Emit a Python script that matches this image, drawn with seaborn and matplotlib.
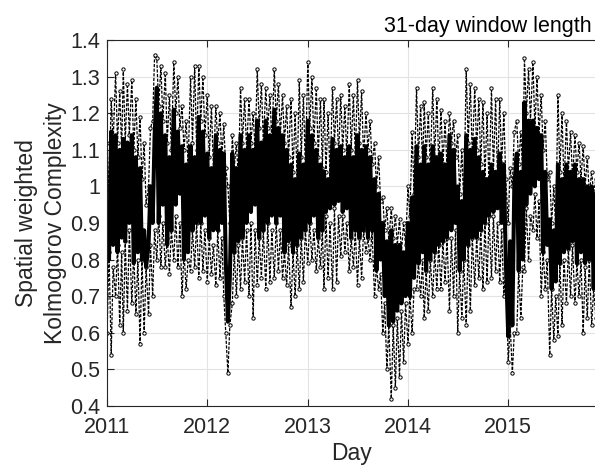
import numpy as np
import pandas as pd
import matplotlib
matplotlib.use("Agg")
import matplotlib.pyplot as plt
from matplotlib.ticker import FuncFormatter, MultipleLocator
import seaborn as sns

# Four samples per month (days 1, 8, 16, 23), January 2011 to November 2015
months = pd.date_range("2011-01-01", "2015-11-01", freq="MS")
sample_offsets = [0, 7, 15, 22]

# Central complexity (thick line)
mid = [
    # 2011
    0.90, 0.80, 1.15, 0.84,  1.14, 0.82, 1.10, 0.86,  1.13, 0.85, 1.12, 0.90,
    1.14, 0.79, 1.08, 0.82,  1.05, 0.80, 0.88, 0.78,  0.84, 1.00, 0.90, 1.14,
    1.27, 0.90, 1.20, 0.95,  1.14, 0.84, 1.08, 0.88,  1.21, 0.95, 1.15, 0.98,
    1.11, 0.80, 1.06, 0.82,  1.11, 0.88, 1.08, 0.90,  1.19, 0.90, 1.15, 0.92,
    # 2012
    1.09, 0.86, 1.05, 0.88,  1.14, 0.88, 1.10, 0.90,  1.09, 0.80, 0.63, 0.75,
    1.09, 0.82, 1.05, 0.85,  1.14, 0.86, 1.10, 0.90,  1.14, 0.93, 1.10, 0.95,
    1.18, 0.86, 1.12, 0.88,  1.18, 0.90, 1.14, 0.92,  1.21, 0.90, 1.16, 0.92,
    1.14, 0.82, 1.10, 0.85,  1.06, 0.82, 1.02, 0.84,  1.09, 0.86, 1.06, 0.88,
    # 2013
    1.18, 0.90, 1.14, 0.92,  1.10, 0.86, 1.06, 0.88,  1.04, 0.93, 1.02, 0.94,
    1.13, 0.95, 1.10, 0.96,  1.11, 0.93, 1.08, 0.94,  1.11, 0.86, 1.08, 0.88,
    1.14, 0.86, 1.10, 0.88,  1.11, 0.86, 1.08, 0.88,  1.02, 0.77, 0.98, 0.80,
    0.90, 0.70, 0.85, 0.62,  0.88, 0.63, 0.84, 0.66,  0.84, 0.68, 0.82, 0.70,
    # 2014
    0.90, 0.70, 0.97, 0.75,  1.11, 0.79, 1.06, 0.82,  1.11, 0.77, 1.06, 0.80,
    1.11, 0.82, 1.08, 0.84,  1.09, 0.85, 1.06, 0.86,  1.14, 0.88, 1.10, 0.90,
    1.00, 0.77, 0.96, 0.80,  1.14, 0.84, 1.10, 0.86,  1.13, 0.86, 1.08, 0.88,
    1.04, 0.90, 1.02, 0.92,  1.06, 0.93, 1.04, 0.94,  1.09, 0.90, 1.06, 0.80,
    # 2015
    0.59, 0.85, 0.62, 1.00,  1.09, 0.77, 1.04, 0.80,  1.23, 0.95, 1.18, 0.98,
    1.18, 1.00, 1.16, 1.02,  1.14, 0.82, 1.04, 0.84,  0.91, 0.72, 0.88, 0.74,
    1.06, 0.79, 1.02, 0.82,  1.06, 0.83, 1.04, 0.85,  1.06, 0.79, 1.02, 0.82,
    1.02, 0.79, 1.00, 0.80,  1.00, 0.72, 0.98, 0.75,
]

# Upper spread (dashed, open markers)
upper = [
    # 2011
    1.12, 0.98, 1.24, 1.12,  1.31, 1.12, 1.26, 1.10,  1.32, 1.12, 1.28, 1.14,
    1.29, 1.10, 1.24, 1.08,  1.19, 1.02, 1.12, 0.95,  1.00, 1.16, 1.18, 1.36,
    1.35, 1.22, 1.33, 1.18,  1.31, 1.12, 1.25, 1.10,  1.34, 1.20, 1.30, 1.16,
    1.22, 1.10, 1.18, 1.06,  1.30, 1.12, 1.33, 1.10,  1.33, 1.18, 1.30, 1.14,
    # 2012
    1.25, 1.08, 1.22, 1.05,  1.22, 1.12, 1.20, 1.08,  1.17, 1.05, 1.00, 0.90,
    1.14, 1.05, 1.12, 1.02,  1.27, 1.12, 1.24, 1.10,  1.24, 1.12, 1.20, 1.10,
    1.32, 1.16, 1.28, 1.12,  1.27, 1.16, 1.25, 1.12,  1.32, 1.18, 1.28, 1.14,
    1.25, 1.12, 1.22, 1.08,  1.24, 1.04, 1.20, 1.02,  1.29, 1.08, 1.25, 1.05,
    # 2013
    1.34, 1.16, 1.30, 1.12,  1.27, 1.08, 1.24, 1.05,  1.24, 1.04, 1.20, 1.02,
    1.27, 1.12, 1.24, 1.08,  1.25, 1.10, 1.22, 1.08,  1.28, 1.10, 1.25, 1.08,
    1.29, 1.12, 1.26, 1.08,  1.20, 1.10, 1.18, 1.06,  1.12, 1.00, 1.08, 0.96,
    0.97, 0.88, 0.94, 0.85,  0.94, 0.86, 0.92, 0.84,  0.91, 0.82, 0.90, 0.84,
    # 2014
    1.00, 0.92, 1.15, 0.98,  1.27, 1.08, 1.22, 1.05,  1.23, 1.08, 1.20, 1.05,
    1.27, 1.08, 1.24, 1.06,  1.21, 1.06, 1.18, 1.05,  1.20, 1.12, 1.18, 1.08,
    1.14, 0.98, 1.10, 0.95,  1.32, 1.12, 1.28, 1.08,  1.27, 1.10, 1.24, 1.06,
    1.23, 1.02, 1.20, 1.00,  1.27, 1.04, 1.24, 1.02,  1.24, 1.06, 1.20, 1.02,
    # 2015
    0.90, 1.05, 1.00, 1.15,  1.18, 1.06, 1.15, 1.02,  1.35, 1.20, 1.32, 1.18,
    1.34, 1.16, 1.30, 1.14,  1.25, 1.10, 1.18, 1.02,  1.04, 0.90, 1.00, 0.88,
    1.25, 1.04, 1.20, 1.00,  1.18, 1.04, 1.15, 1.02,  1.14, 1.04, 1.12, 1.02,
    1.11, 1.00, 1.08, 0.98,  1.04, 0.98, 1.02, 0.96,
]

# Lower spread (dashed, open markers)
lower = [
    # 2011
    0.60, 0.82, 0.54, 0.78,  0.70, 0.84, 0.62, 0.82,  0.60, 0.85, 0.66, 0.88,
    0.68, 0.82, 0.65, 0.80,  0.57, 0.80, 0.60, 0.78,  0.65, 0.84, 0.70, 0.88,
    0.80, 0.92, 0.78, 0.90,  0.78, 0.86, 0.76, 0.88,  0.80, 0.92, 0.78, 0.90,
    0.70, 0.82, 0.72, 0.80,  0.77, 0.88, 0.78, 0.90,  0.75, 0.90, 0.77, 0.88,
    # 2012
    0.74, 0.86, 0.76, 0.84,  0.73, 0.88, 0.75, 0.86,  0.70, 0.60, 0.49, 0.62,
    0.68, 0.82, 0.70, 0.84,  0.72, 0.86, 0.74, 0.88,  0.70, 0.90, 0.64, 0.88,
    0.73, 0.86, 0.75, 0.88,  0.72, 0.90, 0.74, 0.88,  0.75, 0.90, 0.77, 0.88,
    0.75, 0.82, 0.73, 0.84,  0.67, 0.82, 0.70, 0.84,  0.72, 0.86, 0.74, 0.88,
    # 2013
    0.79, 0.90, 0.80, 0.88,  0.77, 0.86, 0.78, 0.88,  0.72, 0.92, 0.75, 0.90,
    0.72, 0.94, 0.74, 0.92,  0.81, 0.92, 0.82, 0.90,  0.77, 0.86, 0.78, 0.88,
    0.73, 0.86, 0.75, 0.88,  0.82, 0.86, 0.80, 0.88,  0.70, 0.78, 0.72, 0.76,
    0.60, 0.68, 0.50, 0.62,  0.42, 0.62, 0.45, 0.64,  0.48, 0.66, 0.52, 0.68,
    # 2014
    0.57, 0.70, 0.60, 0.72,  0.72, 0.79, 0.70, 0.80,  0.64, 0.77, 0.66, 0.80,
    0.70, 0.82, 0.72, 0.84,  0.72, 0.85, 0.74, 0.86,  0.66, 0.86, 0.70, 0.88,
    0.60, 0.77, 0.64, 0.80,  0.62, 0.84, 0.66, 0.86,  0.73, 0.86, 0.75, 0.88,
    0.72, 0.90, 0.74, 0.92,  0.75, 0.92, 0.77, 0.90,  0.74, 0.88, 0.70, 0.78,
    # 2015
    0.52, 0.62, 0.49, 0.60,  0.60, 0.77, 0.64, 0.78,  0.77, 0.94, 0.80, 0.92,
    0.88, 0.98, 0.86, 0.96,  0.70, 0.82, 0.72, 0.80,  0.54, 0.72, 0.58, 0.70,
    0.59, 0.79, 0.62, 0.80,  0.68, 0.83, 0.70, 0.84,  0.68, 0.79, 0.70, 0.80,
    0.60, 0.78, 0.64, 0.80,  0.62, 0.72, 0.64, 0.74,
]

year_ticks = ["2011", "2012", "2013", "2014", "2015"]

dates = [m + pd.Timedelta(days=d) for m in months for d in sample_offsets]
df = pd.DataFrame({"date": dates, "mid": mid, "upper": upper, "lower": lower})

sns.set_theme(style="white")
plt.rcParams["font.family"] = ["Liberation Sans", "DejaVu Sans"]

fig = plt.figure(figsize=(5.95, 4.66), dpi=100)
ax = fig.add_axes([0.18, 0.129, 0.82, 0.785])

for col in ["upper", "lower"]:
    sns.lineplot(data=df, x="date", y=col, ax=ax, color="black",
                 linewidth=0.9, linestyle=(0, (2.5, 1.2)),
                 marker="o", markersize=2.4, markerfacecolor="white",
                 markeredgecolor="black", markeredgewidth=0.7,
                 estimator=None, sort=False)
sns.lineplot(data=df, x="date", y="mid", ax=ax, color="black",
             linewidth=2.9, estimator=None, sort=False)

ax.set_xlim(pd.Timestamp("2011-01-01"), pd.Timestamp("2015-11-13"))
ax.set_ylim(0.4, 1.4)
ax.set_xticks([pd.Timestamp(y + "-01-01") for y in year_ticks])
ax.set_xticklabels(year_ticks)
ax.yaxis.set_major_locator(MultipleLocator(0.1))
ax.yaxis.set_major_formatter(FuncFormatter(lambda v, p: f"{v:g}"))

ax.grid(True, color="#e3e3e3", linewidth=0.8)
ax.set_axisbelow(True)
for side in ["left", "bottom", "top"]:
    ax.spines[side].set_visible(True)
    ax.spines[side].set_color("#262626")
    ax.spines[side].set_linewidth(0.8)
ax.spines["right"].set_visible(False)
ax.tick_params(axis="both", direction="in", length=5, width=0.8,
               colors="#262626", labelsize=15.5, labelcolor="#262626",
               top=True, left=True, bottom=True, right=False)
ax.tick_params(axis="x", pad=8)
ax.tick_params(axis="y", pad=5)

ax.set_xlabel("Day", fontsize=16.5, color="#262626", labelpad=3)
ax.set_ylabel("Spatial weighted\nKolmogorov Complexity", fontsize=16.5,
              color="#262626", labelpad=2, linespacing=1.35)
fig.text(0.995, 0.92, "31-day window length", ha="right", va="bottom",
         fontsize=15.5, color="black")

fig.savefig("out.png", dpi=100)
